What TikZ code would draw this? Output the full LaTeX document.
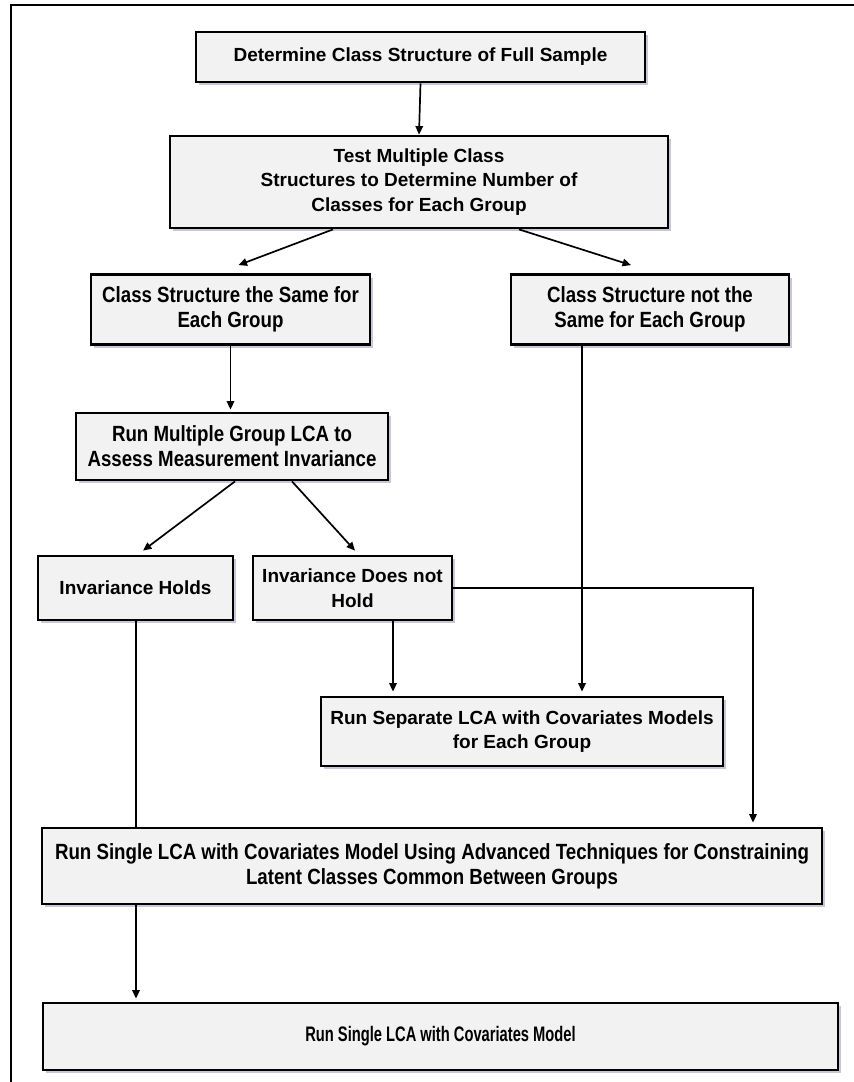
\documentclass[tikz,border=0pt]{standalone}
\usepackage{fontspec}
\setmainfont{Liberation Sans}
\newfontfamily\condensed[FakeStretch=0.85]{Liberation Sans}
\newfontfamily\tightfont[FakeStretch=0.7]{Liberation Sans}
\usetikzlibrary{shadows,arrows.meta,calc}
\definecolor{boxfill}{HTML}{F2F2F2}
\definecolor{shadowcol}{HTML}{CBC5D8}

\begin{document}
\begin{tikzpicture}[x=1pt,y=-1pt,
  box/.style={draw=black, line width=2.8pt, fill=boxfill, align=center,
    inner sep=0pt, font=\fontsize{19}{24.5}\selectfont\bfseries,
    drop shadow={shadow xshift=3pt, shadow yshift=-3pt, fill=shadowcol, opacity=1}},
  narrowbox/.style={box, font=\condensed\fontsize{22}{25}\selectfont\bfseries},
  arr/.style={line width=1.7pt, -{Triangle[length=8.5pt,width=7.5pt]}},
  link/.style={line width=1.7pt}]

\useasboundingbox (0,0) rectangle (854,1082);
\fill[white] (0,0) rectangle (854,1082);

% page frame (left and top edges)
\draw[line width=2.2pt] (11,1082) -- (11,5) -- (854,5);

% boxes
\node[box, minimum width=449pt, minimum height=50pt] (n1) at (420.5,57)
  {Determine Class Structure of Full Sample};
\node[box, minimum width=498pt, minimum height=92pt] (n2) at (419,182)
  {Test Multiple Class\\Structures to Determine Number of\\Classes for Each Group};
\node[narrowbox, minimum width=279pt, minimum height=70pt] (n3) at (230.5,309.5)
  {Class Structure the Same for\\Each Group};
\node[narrowbox, minimum width=278pt, minimum height=70pt] (n4) at (650,309.5)
  {Class Structure not the\\Same for Each Group};
\node[narrowbox, minimum width=312pt, minimum height=67pt] (n5) at (232,446.5)
  {Run Multiple Group LCA to\\Assess Measurement Invariance};
\node[box, minimum width=195pt, minimum height=64pt] (n6) at (135.5,588)
  {Invariance Holds};
\node[box, minimum width=199pt, minimum height=64pt] (n7) at (352.5,588)
  {Invariance Does not\\Hold};
\node[box, minimum width=402pt, minimum height=69pt] (n8) at (522,731.5)
  {Run Separate LCA with Covariates Models\\for Each Group};
\node[narrowbox, minimum width=780pt, minimum height=76pt] (n9) at (432,866)
  {Run Single LCA with Covariates Model Using Advanced Techniques for Constraining\\Latent Classes Common Between Groups};
\node[box, font=\tightfont\fontsize{21}{24}\selectfont\bfseries,
  minimum width=795pt, minimum height=67pt] (n10) at (440.5,1036.5)
  {Run Single LCA with Covariates Model};

% connectors
\draw[arr] (n1.south) -- (n2.north);
\draw[arr] ($(n2.south)+(-86,0)$) -- ($(n3.north)+(8,-8)$);
\draw[arr] ($(n2.south)+(100,0)$) -- ($(n4.north)+(-19,-8)$);
\draw[arr] (n3.south) -- ($(n5.north)+(-1.5,-2)$);
\draw[arr] ($(n5.south)+(3,0)$) -- ($(n6.north)+(7.5,-4)$);
\draw[arr] ($(n5.south)+(60,0)$) -- ($(n7.north)+(2.5,-4)$);
\draw[arr] ($(n7.south)+(40.5,0)$) -- ($(n8.north)+(-129,-4)$);
\draw[arr] ($(n4.south)+(-68,0)$) -- ($(n8.north)+(60,-4)$);
\draw[arr] (n7.east) -| ($(n9.north)+(321,-4)$);
\draw[link] ($(n6.south)+(0.5,0)$) -- ($(n9.north)+(-296,0)$);
\draw[arr] ($(n9.south)+(-296,0)$) -- ($(n10.north)+(-304.5,-3)$);
\end{tikzpicture}
\end{document}
